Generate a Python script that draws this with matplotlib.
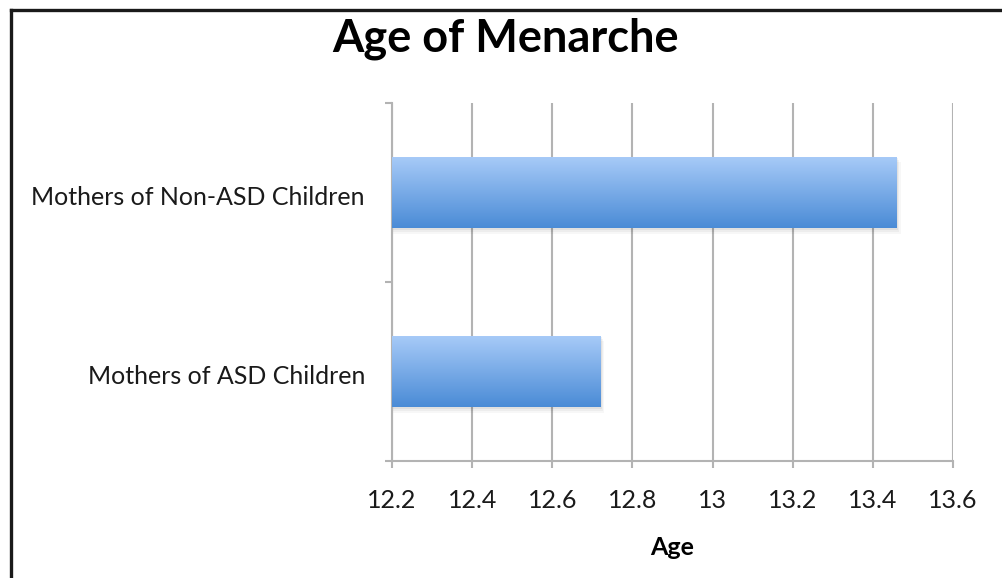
import matplotlib
matplotlib.use("Agg")
import matplotlib.pyplot as plt
import numpy as np
from matplotlib.lines import Line2D
from matplotlib.colors import LinearSegmentedColormap
from matplotlib.transforms import ScaledTranslation

categories = ["Mothers of ASD Children", "Mothers of Non-ASD Children"]
values = [12.72, 13.46]
x_ticks = [12.2, 12.4, 12.6, 12.8, 13.0, 13.2, 13.4, 13.6]
x_tick_labels = ["12.2", "12.4", "12.6", "12.8", "13", "13.2", "13.4", "13.6"]
title = "Age of Menarche"
xlabel = "Age"

plt.rcParams['font.family'] = ['Lato', 'DejaVu Sans']

fig = plt.figure(figsize=(10.02, 5.78), dpi=100)
ax = fig.add_axes([392/1002, 1-461/578, (953-392)/1002, (461-103)/578])

xmin, xmax = 12.2, 13.6
ypos = np.arange(len(categories))
bars = ax.barh(ypos, [v - xmin for v in values], left=xmin, height=0.4,
               color='none', edgecolor='none', zorder=3)

cmap = LinearSegmentedColormap.from_list('g', ['#4a8bd6', '#a8cbf8'])
grad = np.linspace(0, 1, 256).reshape(-1, 1)
for b in bars:
    x0, y0 = b.get_x(), b.get_y()
    w, h = b.get_width(), b.get_height()
    # soft shadow
    for k, a in enumerate([0.05, 0.04, 0.03]):
        d = 0.003 * (k + 1)
        ax.add_patch(plt.Rectangle((x0, y0 - 0.01 * (k + 1)), w + d, h,
                                   color='k', alpha=a, lw=0, zorder=2))
    im = ax.imshow(grad, extent=[x0, x0 + w, y0, y0 + h], origin='lower',
                   cmap=cmap, aspect='auto', zorder=3, interpolation='bilinear')
    im.set_clip_path(b)

ax.set_xlim(xmin, xmax)
ax.set_ylim(-0.5, 1.5)
ax.set_xticks(x_ticks)
ax.set_xticklabels(x_tick_labels, fontsize=18, color='#1a1a1a')
ax.set_yticks([-0.5, 0.5, 1.5])
ax.set_yticklabels([])
ax.set_yticks(ypos, minor=True)
ax.set_yticklabels(categories, minor=True, fontsize=18, color='#1a1a1a')
ax.tick_params(axis='y', which='minor', length=0, pad=19.5)
ax.tick_params(axis='y', which='major', length=5, width=1.5, color='#b3b3b3')
ax.tick_params(axis='x', length=5, width=1.5, color='#b3b3b3', pad=15.5)
shift = ScaledTranslation(0, -3/100, fig.dpi_scale_trans)
for lab in ax.get_yticklabels(minor=True):
    lab.set_transform(lab.get_transform() + shift)

ax.grid(axis='x', color='#b3b3b3', linewidth=1.5, zorder=0)
ax.set_axisbelow(True)
for s in ['top', 'right']:
    ax.spines[s].set_visible(False)
for s in ['left', 'bottom']:
    ax.spines[s].set_color('#b3b3b3')
    ax.spines[s].set_linewidth(1.5)

ax.set_xlabel(xlabel, fontsize=18, fontweight='bold')
ax.xaxis.label.set_va('center')
ax.xaxis.set_label_coords(0.5, -0.243)
fig.text(506/1002, 1 - 52/578, title, fontsize=32.5, fontweight='bold',
         ha='center', va='baseline')

# frame lines (left and top)
fig.add_artist(Line2D([11/1002, 11/1002], [0, 1 - 10/578], transform=fig.transFigure,
                      color='#1a1a1a', linewidth=2.4))
fig.add_artist(Line2D([11/1002, 1], [1 - 10/578, 1 - 10/578], transform=fig.transFigure,
                      color='#1a1a1a', linewidth=2.4))

fig.savefig("out.png", dpi=100)
